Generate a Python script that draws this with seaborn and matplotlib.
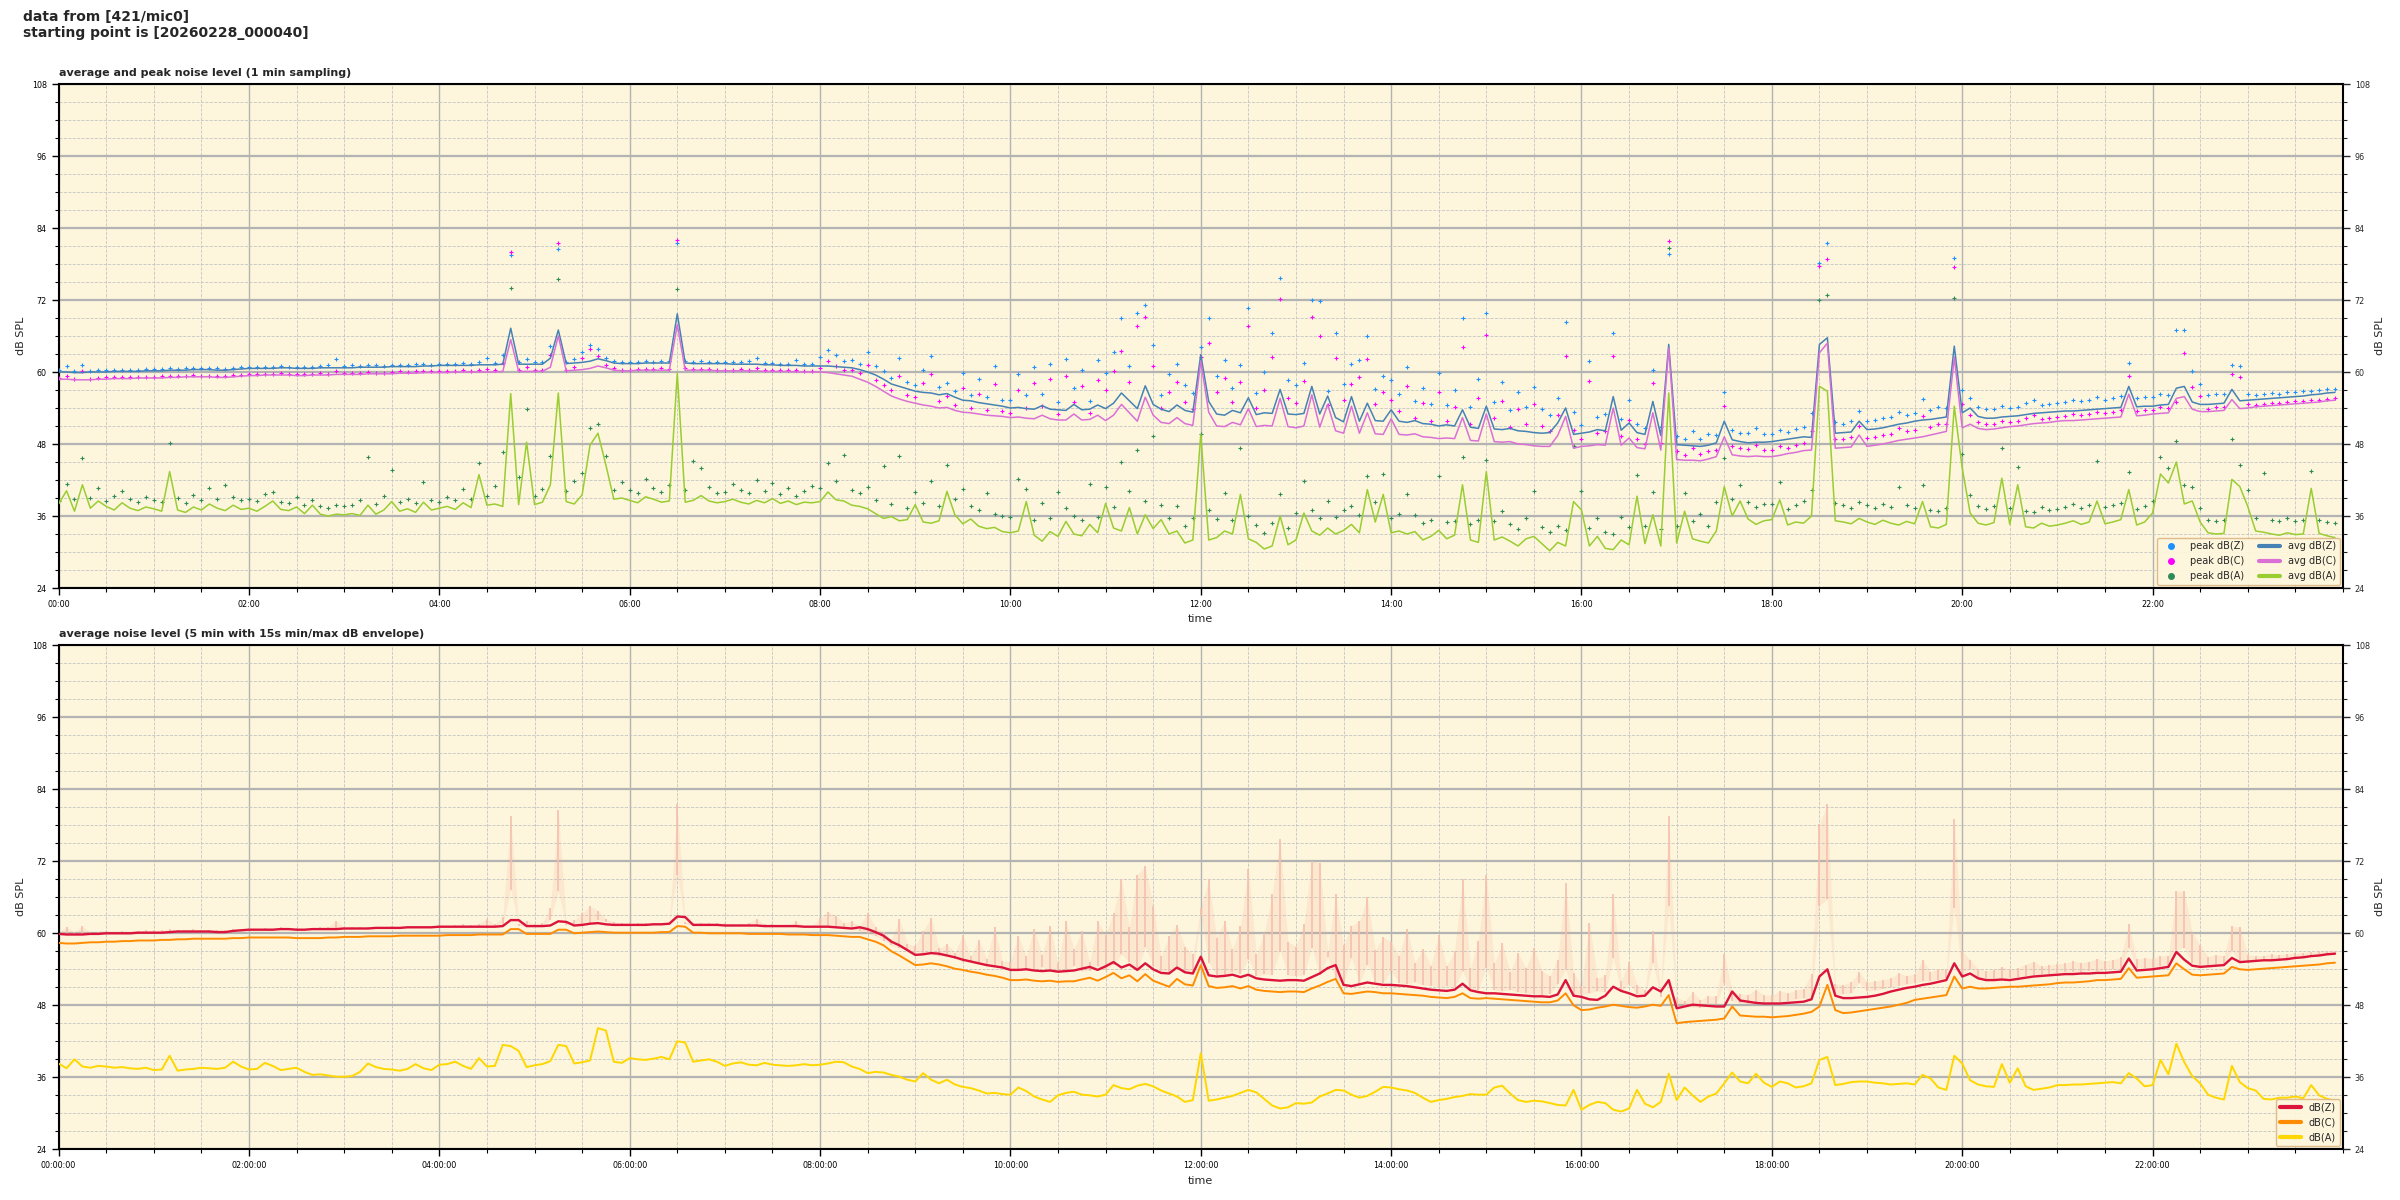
import numpy as np
import matplotlib
matplotlib.use("Agg")
import matplotlib.pyplot as plt
import seaborn as sns
from matplotlib.ticker import MultipleLocator
from matplotlib.lines import Line2D

# ---------------- data (5-minute samples, one row per hour) ----------------
avg_z_rows = [
    [60.0, 60.0, 59.9, 59.9, 60.0, 60.0, 60.0, 60.1, 60.1, 60.1, 60.1, 60.2],
    [60.2, 60.2, 60.3, 60.3, 60.3, 60.4, 60.4, 60.4, 60.3, 60.3, 60.4, 60.5],
    [60.6, 60.6, 60.6, 60.6, 60.7, 60.7, 60.6, 60.6, 60.6, 60.7, 60.7, 60.7],
    [60.7, 60.7, 60.8, 60.8, 60.8, 60.8, 60.9, 60.9, 60.9, 60.9, 61.0, 61.0],
    [61.1, 61.1, 61.1, 61.1, 61.1, 61.2, 61.2, 61.2, 61.3, 67.3, 61.3, 61.3],
    [61.3, 61.3, 62.3, 67.0, 61.4, 61.5, 61.6, 61.8, 62.2, 61.9, 61.5, 61.4],
    [61.4, 61.4, 61.5, 61.5, 61.5, 61.5, 69.7, 61.5, 61.4, 61.4, 61.4, 61.4],
    [61.4, 61.3, 61.3, 61.3, 61.3, 61.2, 61.2, 61.1, 61.1, 61.1, 61.0, 61.0],
    [61.0, 61.0, 60.9, 60.8, 60.7, 60.4, 60.0, 59.5, 58.8, 58.0, 57.6, 57.2],
    [56.8, 56.6, 56.5, 56.2, 56.4, 55.8, 55.3, 55.2, 54.9, 54.7, 54.5, 54.3],
    [54.0, 54.1, 53.9, 53.8, 54.4, 53.8, 53.7, 53.6, 54.6, 53.7, 53.8, 54.5],
    [53.9, 54.8, 56.5, 55.2, 53.9, 57.7, 54.6, 53.8, 53.4, 54.5, 53.6, 53.3],
    [62.9, 55.1, 53.0, 52.8, 53.6, 53.2, 55.7, 52.9, 53.2, 53.1, 57.1, 53.0],
    [52.9, 53.1, 57.6, 53.0, 56.0, 52.4, 51.7, 55.9, 51.8, 54.8, 51.9, 51.8],
    [53.7, 51.8, 51.6, 51.9, 51.4, 51.3, 51.0, 51.2, 51.0, 53.7, 50.8, 50.6],
    [54.3, 50.5, 50.4, 50.6, 50.2, 50.1, 49.9, 49.8, 49.9, 51.5, 54.0, 49.6],
    [49.8, 50.0, 50.4, 50.2, 55.9, 50.3, 51.5, 49.9, 49.6, 55.1, 49.4, 64.6],
    [47.9, 47.8, 47.7, 47.6, 47.8, 48.2, 51.8, 48.7, 48.4, 48.2, 48.3, 48.3],
    [48.4, 48.6, 48.8, 49.0, 49.2, 49.1, 64.6, 65.7, 49.8, 49.9, 50.0, 51.8],
    [50.4, 50.5, 50.7, 51.0, 51.3, 51.5, 51.8, 52.0, 52.1, 52.3, 52.5, 64.3],
    [53.2, 54.0, 52.6, 52.3, 52.3, 52.5, 52.6, 52.7, 52.9, 53.1, 53.2, 53.3],
    [53.4, 53.5, 53.5, 53.6, 53.7, 53.8, 53.9, 54.0, 54.1, 57.6, 54.2, 54.3],
    [54.3, 54.5, 54.6, 57.3, 57.6, 55.0, 54.6, 54.6, 54.7, 54.8, 57.1, 55.2],
    [55.3, 55.4, 55.5, 55.6, 55.7, 55.8, 55.9, 56.0, 56.2, 56.3, 56.5, 56.6],
]
avg_c_rows = [
    [58.8, 58.8, 58.7, 58.7, 58.7, 58.8, 58.8, 58.9, 58.9, 58.9, 59.0, 59.0],
    [59.0, 59.0, 59.1, 59.1, 59.2, 59.2, 59.2, 59.2, 59.1, 59.1, 59.2, 59.3],
    [59.4, 59.4, 59.5, 59.5, 59.5, 59.5, 59.4, 59.4, 59.5, 59.5, 59.5, 59.6],
    [59.6, 59.6, 59.6, 59.7, 59.7, 59.7, 59.7, 59.8, 59.8, 59.8, 59.9, 59.9],
    [59.9, 59.9, 60.0, 60.0, 60.0, 60.0, 60.0, 60.0, 60.1, 65.4, 60.1, 60.1],
    [60.1, 60.1, 60.8, 66.0, 60.2, 60.3, 60.4, 60.6, 61.0, 60.7, 60.3, 60.2],
    [60.2, 60.3, 60.3, 60.3, 60.3, 60.3, 67.9, 60.3, 60.3, 60.3, 60.3, 60.2],
    [60.2, 60.2, 60.2, 60.2, 60.2, 60.1, 60.1, 60.1, 60.1, 60.0, 60.0, 60.0],
    [60.0, 59.9, 59.7, 59.5, 59.3, 58.8, 58.3, 57.6, 56.8, 56.0, 55.5, 55.1],
    [54.8, 54.5, 54.3, 54.0, 54.1, 53.6, 53.3, 53.2, 53.0, 52.8, 52.7, 52.6],
    [52.4, 52.5, 52.3, 52.2, 52.8, 52.2, 52.0, 52.0, 53.0, 52.0, 52.1, 52.8],
    [51.9, 52.8, 54.6, 53.2, 51.8, 55.8, 52.8, 51.6, 51.4, 52.4, 51.4, 51.1],
    [61.8, 53.3, 51.0, 50.9, 51.6, 51.2, 53.9, 50.9, 51.1, 51.0, 55.6, 50.9],
    [50.7, 51.0, 56.2, 50.8, 54.6, 50.2, 49.8, 54.3, 49.8, 53.2, 49.7, 49.6],
    [52.2, 49.6, 49.5, 49.7, 49.2, 49.1, 48.9, 49.0, 48.9, 52.4, 48.6, 48.5],
    [53.0, 48.4, 48.3, 48.4, 48.0, 47.9, 47.7, 47.6, 47.6, 49.4, 52.6, 47.3],
    [47.6, 47.7, 47.9, 47.8, 54.0, 47.8, 49.0, 47.4, 47.2, 53.2, 47.0, 64.0],
    [45.4, 45.3, 45.3, 45.2, 45.5, 45.9, 49.2, 46.2, 46.0, 45.9, 46.0, 45.9],
    [45.9, 46.1, 46.4, 46.6, 46.9, 47.0, 63.2, 64.8, 47.3, 47.4, 47.5, 49.5],
    [47.6, 47.8, 48.0, 48.3, 48.6, 48.8, 49.0, 49.2, 49.5, 49.8, 50.1, 62.5],
    [50.7, 51.3, 50.6, 50.4, 50.5, 50.7, 50.9, 51.0, 51.2, 51.4, 51.5, 51.6],
    [51.8, 51.9, 51.9, 52.0, 52.1, 52.2, 52.3, 52.4, 52.5, 56.3, 52.7, 52.8],
    [53.0, 53.1, 53.2, 55.6, 55.9, 53.8, 53.4, 53.4, 53.5, 53.6, 55.4, 53.9],
    [54.0, 54.2, 54.3, 54.4, 54.5, 54.6, 54.7, 54.8, 54.9, 55.0, 55.2, 55.3],
]
avg_a_rows = [
    [38.0, 40.2, 36.8, 41.2, 37.3, 38.5, 37.6, 37.0, 38.2, 37.3, 36.9, 37.5],
    [37.2, 36.8, 43.4, 37.0, 36.6, 37.5, 37.0, 38.0, 37.3, 36.9, 37.8, 37.1],
    [37.3, 36.8, 37.6, 38.5, 37.1, 36.9, 37.5, 36.4, 37.8, 36.3, 36.0, 36.3],
    [36.2, 36.4, 36.1, 37.8, 36.3, 37.0, 38.4, 36.8, 37.2, 36.6, 38.3, 37.0],
    [37.3, 37.6, 37.1, 38.2, 37.4, 42.9, 37.8, 38.0, 37.6, 56.4, 37.9, 48.3],
    [37.9, 38.3, 41.2, 56.5, 38.4, 38.0, 39.5, 47.8, 49.8, 44.5, 38.8, 39.0],
    [38.6, 38.2, 39.2, 38.8, 38.3, 38.5, 59.8, 38.3, 38.6, 39.4, 38.5, 38.2],
    [38.4, 38.8, 38.3, 38.0, 38.6, 38.2, 38.9, 38.1, 38.5, 37.9, 38.3, 38.2],
    [38.4, 40.0, 38.7, 38.5, 37.8, 37.6, 37.2, 36.4, 35.6, 35.9, 35.2, 35.4],
    [37.9, 35.0, 34.8, 35.2, 40.1, 36.2, 34.7, 35.5, 34.3, 33.9, 34.1, 33.4],
    [33.2, 33.5, 38.4, 32.8, 31.8, 33.4, 32.6, 35.1, 33.0, 32.7, 34.6, 33.2],
    [38.1, 34.0, 33.5, 37.4, 33.0, 36.2, 33.9, 35.4, 33.0, 33.5, 31.5, 32.0],
    [49.6, 32.0, 32.4, 33.5, 33.0, 39.6, 32.2, 31.6, 30.5, 31.0, 36.0, 31.2],
    [32.0, 36.5, 33.5, 32.8, 34.0, 33.0, 33.6, 34.6, 33.2, 40.4, 35.0, 39.6],
    [33.2, 33.5, 33.0, 33.4, 32.0, 32.6, 33.6, 32.2, 32.8, 41.2, 32.0, 31.6],
    [43.4, 32.0, 32.5, 31.8, 31.0, 32.2, 32.6, 31.4, 30.2, 31.6, 31.0, 38.4],
    [37.0, 31.0, 32.6, 30.6, 30.4, 32.0, 31.2, 39.3, 31.4, 36.2, 31.0, 56.5],
    [31.5, 36.8, 32.2, 31.8, 31.5, 33.5, 40.9, 36.0, 38.5, 35.5, 34.6, 35.2],
    [35.4, 38.7, 34.5, 35.0, 34.8, 36.0, 57.6, 56.8, 35.2, 35.0, 34.7, 35.6],
    [35.0, 34.6, 35.3, 34.8, 34.5, 35.1, 34.7, 38.4, 34.2, 34.0, 34.6, 54.3],
    [44.0, 36.5, 34.8, 34.5, 34.9, 42.3, 34.6, 41.2, 34.2, 34.0, 34.8, 34.3],
    [34.5, 34.8, 35.2, 34.6, 35.0, 38.5, 34.7, 35.0, 35.4, 40.4, 34.5, 35.0],
    [36.5, 43.0, 41.5, 45.0, 38.0, 38.5, 35.0, 33.2, 33.0, 33.1, 42.1, 40.9],
    [37.6, 33.5, 33.3, 33.0, 32.8, 33.2, 32.9, 33.0, 40.6, 33.1, 32.7, 32.4],
]
peak_z_rows = [
    [60.3, 61.0, 60.2, 61.2, 60.2, 60.3, 60.4, 60.3, 60.4, 60.3, 60.4, 60.5],
    [60.5, 60.5, 60.7, 60.5, 60.6, 60.7, 60.6, 60.6, 60.6, 60.5, 60.7, 60.8],
    [60.9, 60.8, 60.9, 60.8, 61.0, 60.9, 60.9, 60.8, 60.9, 61.0, 61.1, 62.1],
    [61.0, 61.1, 61.0, 61.1, 61.1, 61.0, 61.2, 61.1, 61.2, 61.3, 61.3, 61.2],
    [61.4, 61.3, 61.4, 61.5, 61.4, 61.6, 62.4, 61.5, 62.8, 79.5, 61.6, 62.1],
    [61.6, 61.7, 64.3, 80.5, 61.7, 62.2, 63.4, 64.5, 63.8, 62.4, 61.9, 61.7],
    [61.7, 61.7, 61.8, 61.7, 61.8, 61.8, 81.5, 61.9, 61.7, 61.8, 61.7, 61.7],
    [61.7, 61.6, 61.6, 61.8, 62.4, 61.5, 61.5, 61.4, 61.4, 62.0, 61.3, 61.3],
    [62.5, 63.6, 62.9, 61.8, 62.0, 61.3, 63.4, 61.0, 60.2, 59.0, 62.4, 58.3],
    [57.9, 60.4, 62.6, 57.5, 58.2, 56.8, 59.8, 56.2, 58.9, 55.8, 61.0, 55.4],
    [55.3, 59.6, 56.2, 60.8, 56.4, 61.3, 55.0, 62.1, 57.4, 60.4, 55.2, 62.0],
    [59.8, 63.4, 69.0, 61.0, 69.8, 71.2, 64.5, 56.2, 59.6, 61.4, 57.8, 56.5],
    [64.2, 69.0, 59.3, 62.0, 57.4, 61.2, 70.7, 56.5, 60.0, 66.5, 75.7, 58.6],
    [57.8, 61.5, 72.0, 71.8, 56.9, 66.5, 58.0, 61.3, 62.0, 66.0, 57.2, 59.4],
    [58.6, 56.3, 60.8, 55.1, 57.4, 54.6, 59.8, 54.5, 57.0, 69.0, 54.2, 58.8],
    [69.8, 55.0, 58.4, 53.6, 56.7, 54.2, 57.5, 53.8, 52.9, 55.6, 68.4, 53.4],
    [51.2, 61.8, 52.5, 53.0, 66.5, 52.1, 55.3, 51.4, 50.6, 60.4, 50.8, 79.6],
    [49.3, 48.8, 50.2, 48.9, 49.6, 49.5, 56.6, 50.3, 49.9, 49.8, 50.6, 49.7],
    [49.7, 50.4, 50.0, 50.5, 50.8, 53.2, 78.2, 81.5, 51.6, 51.4, 51.9, 53.5],
    [51.9, 52.0, 52.3, 52.5, 53.4, 52.9, 53.2, 55.5, 53.6, 54.1, 54.0, 79.0],
    [57.0, 55.6, 54.1, 53.8, 53.9, 54.4, 54.0, 54.2, 54.8, 55.3, 54.5, 54.7],
    [54.9, 55.0, 55.4, 55.1, 55.3, 55.8, 55.4, 55.6, 56.0, 61.5, 55.7, 55.9],
    [55.8, 56.3, 56.2, 67.0, 67.0, 60.1, 58.0, 56.1, 56.4, 56.3, 61.2, 61.0],
    [56.4, 56.2, 56.3, 56.5, 56.4, 56.6, 56.7, 56.8, 56.9, 57.0, 57.1, 57.1],
]
peak_c_rows = [
    [59.0, 59.4, 58.9, 60.2, 58.9, 59.0, 59.1, 59.1, 59.1, 59.2, 59.2, 59.2],
    [59.2, 59.3, 59.4, 59.3, 59.4, 59.5, 59.4, 59.4, 59.3, 59.4, 59.5, 59.5],
    [59.6, 59.6, 59.7, 59.7, 59.8, 59.7, 59.6, 59.7, 59.7, 59.8, 59.7, 60.1],
    [59.8, 59.9, 59.8, 60.0, 59.9, 59.9, 60.0, 60.1, 60.0, 60.1, 60.1, 60.2],
    [60.1, 60.2, 60.2, 60.3, 60.2, 60.3, 60.5, 60.3, 61.5, 80.0, 60.4, 60.9],
    [60.3, 60.4, 62.8, 81.5, 60.4, 60.8, 62.3, 63.8, 62.6, 61.1, 60.6, 60.4],
    [60.4, 60.5, 60.5, 60.5, 60.6, 60.5, 82.0, 60.6, 60.5, 60.5, 60.5, 60.4],
    [60.4, 60.4, 60.5, 60.4, 60.7, 60.3, 60.3, 60.3, 60.3, 60.4, 60.2, 60.2],
    [60.6, 61.8, 61.0, 60.4, 60.3, 59.8, 61.2, 58.6, 57.8, 57.0, 59.4, 56.2],
    [55.8, 58.2, 59.6, 55.2, 56.0, 54.5, 57.4, 54.0, 56.3, 53.6, 58.0, 53.5],
    [53.2, 57.0, 54.0, 58.2, 54.3, 58.8, 53.0, 59.3, 55.0, 57.7, 53.2, 58.6],
    [57.0, 60.2, 63.5, 58.4, 67.6, 69.2, 61.0, 54.0, 56.6, 58.4, 55.0, 53.9],
    [62.5, 64.8, 56.6, 59.0, 55.0, 58.3, 67.6, 54.0, 57.0, 62.5, 72.2, 55.6],
    [54.8, 58.5, 69.2, 66.0, 54.5, 62.4, 55.4, 58.0, 59.2, 62.2, 54.6, 56.6],
    [55.4, 53.5, 57.7, 52.4, 54.8, 51.9, 56.6, 51.8, 54.2, 64.2, 51.4, 55.6],
    [66.2, 52.4, 55.2, 50.8, 53.8, 51.4, 54.6, 51.0, 50.2, 52.8, 62.6, 50.4],
    [48.8, 58.5, 49.8, 50.2, 62.6, 49.3, 52.0, 48.9, 48.0, 58.2, 48.2, 81.8],
    [46.8, 46.2, 47.4, 46.3, 46.9, 47.0, 54.4, 47.6, 47.3, 47.1, 47.8, 47.0],
    [47.0, 47.6, 47.4, 47.9, 48.2, 50.1, 77.6, 78.8, 48.9, 48.8, 49.2, 51.0],
    [49.0, 49.2, 49.5, 49.7, 50.6, 50.1, 50.4, 52.6, 50.8, 51.3, 51.3, 77.5],
    [54.6, 52.8, 51.6, 51.3, 51.4, 51.8, 51.6, 51.8, 52.3, 52.8, 52.2, 52.4],
    [52.5, 52.7, 53.0, 52.8, 53.0, 53.4, 53.1, 53.3, 53.6, 59.3, 53.5, 53.6],
    [53.7, 54.2, 54.0, 55.0, 63.2, 57.5, 56.0, 53.9, 54.1, 54.2, 59.6, 59.2],
    [54.6, 54.5, 54.7, 54.8, 54.8, 55.0, 55.1, 55.2, 55.3, 55.4, 55.5, 55.6],
]
peak_a_rows = [
    [38.5, 41.4, 38.8, 45.6, 39.0, 40.6, 38.5, 39.4, 40.2, 38.9, 38.4, 39.1],
    [38.6, 38.3, 48.1, 39.0, 38.2, 39.5, 38.6, 40.7, 38.8, 41.2, 39.2, 38.6],
    [38.9, 38.5, 39.6, 40.0, 38.4, 38.2, 39.2, 37.8, 38.6, 37.6, 37.4, 37.8],
    [37.6, 37.9, 38.6, 45.8, 38.0, 39.4, 43.6, 38.3, 38.9, 38.2, 41.6, 38.6],
    [38.4, 39.2, 38.6, 40.5, 38.9, 44.8, 39.4, 41.0, 46.6, 74.0, 42.5, 53.8],
    [39.4, 40.5, 46.0, 75.5, 40.2, 41.8, 43.2, 50.7, 51.4, 46.0, 40.4, 41.6],
    [40.4, 39.8, 42.2, 40.6, 40.0, 41.2, 73.8, 40.3, 45.2, 44.0, 40.8, 39.9],
    [40.0, 41.4, 40.3, 39.8, 42.0, 40.1, 41.5, 39.6, 40.6, 39.4, 40.2, 41.0],
    [40.6, 44.8, 41.8, 46.2, 40.4, 39.8, 40.9, 38.7, 44.3, 38.0, 46.0, 37.4],
    [40.0, 38.2, 41.8, 37.6, 44.5, 38.8, 40.5, 37.7, 37.0, 39.8, 36.4, 36.0],
    [35.8, 42.2, 40.5, 35.4, 38.2, 35.6, 40.0, 37.3, 36.0, 35.4, 41.4, 35.8],
    [40.8, 37.5, 45.0, 40.2, 47.0, 38.5, 49.4, 37.8, 35.6, 37.6, 34.3, 35.6],
    [49.6, 37.0, 35.5, 39.8, 35.4, 47.4, 36.0, 34.5, 33.2, 34.8, 39.6, 34.0],
    [36.5, 41.8, 37.0, 35.6, 38.5, 35.8, 37.0, 37.6, 36.2, 42.6, 38.4, 43.0],
    [35.6, 36.4, 39.7, 36.2, 34.8, 35.4, 42.6, 35.0, 35.2, 45.8, 34.6, 35.4],
    [45.4, 35.2, 36.8, 34.6, 33.8, 35.6, 40.2, 34.2, 33.4, 34.4, 33.6, 47.6],
    [40.2, 34.0, 35.6, 33.4, 33.0, 35.8, 34.2, 42.8, 34.3, 40.0, 33.8, 80.7],
    [34.4, 39.8, 35.2, 36.4, 34.3, 38.4, 45.6, 38.8, 41.2, 38.4, 37.5, 38.0],
    [38.0, 41.6, 37.2, 37.8, 38.5, 40.3, 72.0, 72.9, 38.1, 37.8, 37.4, 38.4],
    [37.8, 37.3, 38.0, 37.5, 40.9, 37.9, 37.4, 41.2, 37.0, 36.8, 37.3, 72.4],
    [46.4, 39.5, 37.6, 37.2, 37.6, 47.3, 37.4, 44.2, 36.9, 36.7, 37.5, 37.0],
    [37.2, 37.5, 38.0, 37.3, 37.8, 45.2, 37.5, 37.8, 38.2, 43.4, 37.2, 37.6],
    [38.5, 45.8, 44.0, 48.5, 41.2, 40.8, 37.4, 35.4, 35.2, 35.3, 48.8, 44.5],
    [40.4, 35.6, 43.2, 35.4, 35.1, 35.6, 35.2, 35.3, 43.5, 35.4, 35.0, 34.8],
]
# 5-minute averages (lower chart)
db_z_rows = [
    [59.9, 59.8, 59.8, 59.8, 59.9, 59.9, 60.0, 60.0, 60.0, 60.0, 60.1, 60.1],
    [60.1, 60.1, 60.2, 60.3, 60.3, 60.3, 60.3, 60.3, 60.2, 60.2, 60.4, 60.5],
    [60.6, 60.6, 60.6, 60.6, 60.7, 60.7, 60.6, 60.6, 60.7, 60.7, 60.7, 60.7],
    [60.8, 60.8, 60.8, 60.8, 60.9, 60.9, 60.9, 60.9, 61.0, 61.0, 61.0, 61.0],
    [61.1, 61.1, 61.1, 61.1, 61.1, 61.1, 61.1, 61.1, 61.2, 62.2, 62.2, 61.2],
    [61.2, 61.2, 61.3, 62.0, 61.9, 61.3, 61.4, 61.6, 61.7, 61.5, 61.4, 61.4],
    [61.4, 61.4, 61.4, 61.5, 61.5, 61.6, 62.8, 62.7, 61.4, 61.4, 61.4, 61.4],
    [61.3, 61.3, 61.3, 61.3, 61.3, 61.2, 61.2, 61.2, 61.2, 61.2, 61.1, 61.1],
    [61.1, 61.1, 61.0, 60.9, 60.8, 61.0, 60.7, 60.2, 59.6, 58.6, 58.0, 57.2],
    [56.4, 56.5, 56.7, 56.6, 56.3, 56.0, 55.6, 55.3, 55.0, 54.7, 54.5, 54.3],
    [53.9, 53.9, 54.0, 53.8, 53.7, 53.8, 53.6, 53.7, 53.8, 54.1, 54.4, 53.9],
    [54.5, 55.2, 54.3, 54.8, 53.9, 55.0, 54.0, 53.4, 53.3, 54.3, 53.5, 53.3],
    [56.1, 53.0, 52.8, 52.9, 53.1, 52.7, 53.1, 52.5, 52.3, 52.2, 52.1, 52.2],
    [52.2, 52.1, 52.7, 53.3, 54.2, 54.7, 51.4, 51.2, 51.5, 51.8, 51.6, 51.4],
    [51.4, 51.3, 51.2, 51.0, 50.8, 50.6, 50.5, 50.4, 50.6, 51.6, 50.5, 50.2],
    [50.0, 50.0, 49.9, 49.8, 49.7, 49.6, 49.5, 49.5, 49.4, 49.8, 52.2, 49.6],
    [49.4, 49.0, 48.9, 49.6, 51.1, 50.4, 50.0, 49.5, 49.6, 51.0, 50.3, 52.2],
    [47.5, 47.8, 48.1, 48.0, 47.9, 47.8, 47.8, 50.3, 48.8, 48.6, 48.4, 48.3],
    [48.3, 48.3, 48.4, 48.5, 48.6, 49.0, 52.8, 54.0, 49.6, 49.2, 49.2, 49.3],
    [49.4, 49.6, 49.9, 50.3, 50.6, 50.9, 51.1, 51.4, 51.6, 51.9, 52.2, 55.0],
    [52.8, 53.3, 52.5, 52.2, 52.2, 52.3, 52.2, 52.4, 52.6, 52.8, 52.9, 53.0],
    [53.1, 53.2, 53.2, 53.3, 53.3, 53.4, 53.4, 53.5, 53.6, 55.8, 53.8, 53.9],
    [54.0, 54.2, 54.4, 56.9, 55.6, 54.6, 54.4, 54.5, 54.6, 54.7, 55.9, 55.2],
    [55.3, 55.4, 55.5, 55.5, 55.6, 55.7, 55.9, 56.0, 56.2, 56.3, 56.5, 56.6],
]
db_c_rows = [
    [58.4, 58.3, 58.3, 58.4, 58.5, 58.5, 58.6, 58.6, 58.7, 58.7, 58.8, 58.8],
    [58.8, 58.9, 58.9, 59.0, 59.0, 59.1, 59.1, 59.1, 59.1, 59.1, 59.2, 59.2],
    [59.3, 59.3, 59.3, 59.3, 59.3, 59.3, 59.2, 59.2, 59.2, 59.2, 59.3, 59.3],
    [59.4, 59.4, 59.4, 59.5, 59.5, 59.5, 59.5, 59.6, 59.6, 59.6, 59.6, 59.6],
    [59.6, 59.7, 59.7, 59.7, 59.7, 59.8, 59.8, 59.8, 59.8, 60.7, 60.7, 59.9],
    [59.9, 59.9, 59.9, 60.6, 60.6, 60.0, 60.1, 60.2, 60.3, 60.2, 60.1, 60.1],
    [60.1, 60.1, 60.1, 60.1, 60.2, 60.2, 61.2, 61.1, 60.1, 60.1, 60.0, 60.0],
    [60.0, 60.0, 60.0, 59.9, 59.9, 59.9, 59.9, 59.9, 59.8, 59.8, 59.8, 59.7],
    [59.7, 59.7, 59.6, 59.5, 59.4, 59.4, 59.0, 58.6, 58.0, 57.0, 56.3, 55.5],
    [54.7, 54.8, 55.0, 54.8, 54.5, 54.1, 53.9, 53.6, 53.4, 53.1, 52.9, 52.6],
    [52.2, 52.2, 52.3, 52.1, 52.0, 52.1, 51.9, 52.0, 52.0, 52.3, 52.6, 52.1],
    [52.7, 53.4, 52.5, 53.0, 52.0, 53.2, 52.1, 51.6, 51.1, 52.4, 51.5, 51.3],
    [54.7, 51.2, 50.9, 51.0, 51.2, 50.8, 51.2, 50.6, 50.4, 50.3, 50.2, 50.3],
    [50.3, 50.2, 50.8, 51.3, 51.9, 52.4, 50.0, 49.9, 50.1, 50.3, 50.2, 50.0],
    [50.0, 49.9, 49.8, 49.7, 49.6, 49.4, 49.3, 49.2, 49.4, 50.0, 49.2, 49.1],
    [49.2, 49.1, 49.0, 48.9, 48.8, 48.7, 48.6, 48.5, 48.5, 48.8, 50.0, 48.0],
    [47.2, 47.3, 47.6, 47.8, 48.1, 47.9, 47.7, 47.6, 47.8, 48.1, 47.9, 49.7],
    [45.0, 45.2, 45.3, 45.4, 45.5, 45.6, 45.8, 47.8, 46.3, 46.2, 46.1, 46.1],
    [46.0, 46.1, 46.2, 46.4, 46.6, 46.9, 47.8, 51.4, 47.2, 46.7, 46.8, 47.0],
    [47.2, 47.4, 47.6, 47.8, 48.1, 48.4, 48.9, 49.1, 49.3, 49.5, 49.7, 52.8],
    [50.8, 51.1, 50.8, 50.8, 50.9, 51.0, 51.1, 51.1, 51.2, 51.3, 51.4, 51.5],
    [51.7, 51.8, 51.8, 51.9, 52.0, 52.2, 52.2, 52.3, 52.4, 54.2, 52.6, 52.7],
    [52.8, 52.9, 53.0, 55.0, 54.0, 53.1, 53.0, 53.1, 53.2, 53.3, 54.4, 54.0],
    [53.9, 54.0, 54.1, 54.2, 54.3, 54.4, 54.5, 54.6, 54.7, 54.8, 55.0, 55.1],
]
db_a_rows = [
    [38.3, 37.5, 39.0, 37.8, 37.6, 37.9, 37.8, 37.6, 37.7, 37.5, 37.4, 37.6],
    [37.2, 37.3, 39.6, 37.1, 37.3, 37.4, 37.6, 37.5, 37.4, 37.6, 38.6, 37.8],
    [37.3, 37.4, 38.4, 37.9, 37.2, 37.4, 37.6, 36.9, 36.4, 36.5, 36.3, 36.1],
    [36.1, 36.2, 36.9, 38.3, 37.7, 37.4, 37.3, 37.1, 37.4, 38.2, 37.5, 37.2],
    [38.1, 38.2, 38.6, 37.9, 37.4, 39.2, 37.8, 37.9, 41.4, 41.2, 40.4, 37.7],
    [38.0, 38.2, 38.7, 41.4, 41.2, 38.3, 38.5, 38.8, 44.2, 43.8, 38.6, 38.4],
    [39.2, 39.0, 38.9, 39.1, 39.4, 39.0, 42.0, 41.8, 38.6, 38.8, 39.0, 38.6],
    [37.9, 38.3, 38.5, 38.1, 38.0, 38.4, 38.1, 38.0, 37.9, 38.0, 38.2, 38.0],
    [38.1, 38.3, 38.6, 38.5, 37.8, 37.4, 36.7, 36.9, 36.8, 36.4, 36.1, 35.6],
    [35.3, 36.7, 35.6, 35.0, 35.6, 34.8, 34.4, 34.2, 33.8, 33.3, 33.4, 33.2],
    [33.1, 34.3, 33.7, 32.8, 32.3, 31.9, 33.0, 33.4, 33.6, 33.1, 33.0, 32.8],
    [33.1, 34.7, 34.2, 34.0, 34.6, 34.9, 34.5, 33.8, 33.3, 32.8, 31.9, 32.2],
    [40.0, 32.1, 32.3, 32.6, 32.9, 33.4, 33.9, 33.5, 32.4, 31.3, 30.8, 31.0],
    [31.7, 31.6, 31.8, 32.8, 33.3, 33.9, 33.8, 33.1, 32.6, 32.9, 33.6, 34.4],
    [34.3, 34.0, 33.8, 33.4, 32.6, 31.9, 32.2, 32.4, 32.7, 32.9, 33.2, 33.1],
    [33.1, 34.3, 34.6, 33.3, 32.2, 31.9, 32.1, 32.0, 31.7, 31.4, 31.3, 33.9],
    [30.6, 31.4, 31.9, 31.7, 30.6, 30.3, 30.8, 33.9, 31.6, 31.0, 31.9, 36.6],
    [32.2, 34.3, 33.0, 31.9, 32.8, 33.3, 35.0, 36.8, 35.3, 35.0, 36.6, 35.1],
    [34.4, 35.3, 35.0, 34.3, 34.5, 35.0, 38.9, 39.4, 34.7, 34.9, 35.2, 35.3],
    [35.3, 35.1, 35.0, 34.8, 34.9, 35.0, 34.8, 36.4, 35.8, 34.3, 33.9, 39.6],
    [38.3, 35.5, 34.8, 34.5, 34.4, 38.2, 35.1, 37.5, 34.5, 33.9, 34.1, 34.3],
    [34.7, 34.7, 34.8, 34.8, 34.9, 35.0, 35.1, 35.2, 35.0, 36.7, 35.8, 34.5],
    [34.7, 38.9, 36.5, 41.6, 38.5, 36.2, 35.0, 33.1, 32.6, 32.3, 37.9, 35.2],
    [34.2, 33.8, 32.4, 32.3, 32.6, 32.6, 32.8, 32.5, 34.7, 33.0, 32.4, 32.1],
]

major_hours = [0, 2, 4, 6, 8, 10, 12, 14, 16, 18, 20, 22]
top_tick_labels = ["%02d:00" % h for h in major_hours]
bottom_tick_labels = ["%02d:00:00" % h for h in major_hours]

# ---------------- assemble ----------------
t_hours = np.arange(0, 1440, 5) / 60.0
avg_z = np.ravel(avg_z_rows)
avg_c = np.ravel(avg_c_rows)
avg_a = np.ravel(avg_a_rows)
peak_z = np.ravel(peak_z_rows)
peak_c = np.ravel(peak_c_rows)
peak_a = np.ravel(peak_a_rows)
db_z = np.ravel(db_z_rows)
db_c = np.ravel(db_c_rows)
db_a = np.ravel(db_a_rows)

sns.set_theme(style="ticks")
plt.rcParams["font.family"] = ["DejaVu Sans"]

BG = "#fdf6dc"
fig = plt.figure(figsize=(24, 12), dpi=100)
ax1 = fig.add_axes([0.02442, 0.51, 0.9518, 0.42])
ax2 = fig.add_axes([0.02442, 0.04225, 0.9518, 0.42])


def style_axes(ax, labels):
    ax.set_facecolor(BG)
    ax.set_xlim(0, 24)
    ax.set_ylim(24, 108)
    ax.set_xticks(major_hours)
    ax.set_xticklabels(labels)
    ax.xaxis.set_minor_locator(MultipleLocator(0.5))
    ax.yaxis.set_major_locator(MultipleLocator(12))
    ax.yaxis.set_minor_locator(MultipleLocator(3))
    ax.grid(which="major", axis="y", color="#b3b3b3", lw=1.6)
    ax.grid(which="major", axis="x", color="#b3b3b3", lw=1.0)
    ax.grid(which="minor", color="#c4c4c4", lw=0.6, ls="--")
    ax.set_axisbelow(True)
    for s in ax.spines.values():
        s.set_linewidth(1.5)
        s.set_color("black")
    ax.tick_params(which="both", left=True, right=False, bottom=True, top=False,
                   labelsize=5.8, colors="black", direction="out")
    ax.tick_params(which="major", length=5, width=1)
    ax.tick_params(which="minor", length=3, width=0.8)
    axr = ax.twinx()
    axr.set_ylim(24, 108)
    axr.yaxis.set_major_locator(MultipleLocator(12))
    axr.yaxis.set_minor_locator(MultipleLocator(3))
    axr.tick_params(which="both", labelsize=5.8, direction="out", right=True)
    axr.tick_params(which="major", length=5, width=1)
    axr.tick_params(which="minor", length=3, width=0.8)
    axr.set_ylabel("dB SPL", fontsize=8)
    for s in axr.spines.values():
        s.set_visible(False)
    return axr


style_axes(ax1, top_tick_labels)
style_axes(ax2, bottom_tick_labels)

# ---------------- top chart ----------------
for vals, col in [(peak_z, "dodgerblue"), (peak_c, "magenta"), (peak_a, "seagreen")]:
    sns.scatterplot(x=t_hours, y=vals, ax=ax1, marker="+", s=9, color=col,
                    linewidth=0.8, zorder=3, legend=False)
for vals, col in [(avg_z, "steelblue"), (avg_c, "orchid"), (avg_a, "yellowgreen")]:
    sns.lineplot(x=t_hours, y=vals, ax=ax1, color=col, lw=1.1, zorder=4,
                 estimator=None, legend=False)
ax1.set_xlim(0, 24)
ax1.set_ylim(24, 108)
ax1.set_ylabel("dB SPL", fontsize=8)
ax1.set_xlabel("time", fontsize=8)
ax1.set_title("average and peak noise level (1 min sampling)", loc="left",
              fontsize=8, fontweight="bold", pad=6)

h_top = [
    Line2D([], [], ls="", marker="o", ms=4, color="dodgerblue"),
    Line2D([], [], ls="", marker="o", ms=4, color="magenta"),
    Line2D([], [], ls="", marker="o", ms=4, color="seagreen"),
    Line2D([], [], lw=3, color="steelblue"),
    Line2D([], [], lw=3, color="orchid"),
    Line2D([], [], lw=3, color="yellowgreen"),
]
l_top = ["peak dB(Z)", "peak dB(C)", "peak dB(A)", "avg dB(Z)", "avg dB(C)", "avg dB(A)"]
leg1 = ax1.legend(h_top, l_top, loc="lower right", ncol=2, fontsize=7,
                  facecolor=BG, edgecolor="burlywood", framealpha=0.95,
                  borderaxespad=0.3, handlelength=2.2, columnspacing=1.5)
leg1.set_zorder(10)

# ---------------- bottom chart ----------------
# min/max envelope: pale band plus thin needles up to the short-term maxima
ax2.fill_between(t_hours, avg_z, peak_z, color="#f2a58c", alpha=0.16, lw=0, zorder=2)
ax2.vlines(t_hours, avg_z, peak_z, colors="#f4bfae", lw=1.4, alpha=0.85, zorder=2)
sns.lineplot(x=t_hours, y=db_z, ax=ax2, color="crimson", lw=1.7, zorder=4,
             estimator=None, legend=False)
sns.lineplot(x=t_hours, y=db_c, ax=ax2, color="darkorange", lw=1.4, zorder=4,
             estimator=None, legend=False)
sns.lineplot(x=t_hours, y=db_a, ax=ax2, color="gold", lw=1.4, zorder=4,
             estimator=None, legend=False)
ax2.set_xlim(0, 24)
ax2.set_ylim(24, 108)
ax2.set_ylabel("dB SPL", fontsize=8)
ax2.set_xlabel("time", fontsize=8)
ax2.set_title("average noise level (5 min with 15s min/max dB envelope)", loc="left",
              fontsize=8, fontweight="bold", pad=6)
h_bot = [Line2D([], [], lw=3, color="crimson"),
         Line2D([], [], lw=3, color="darkorange"),
         Line2D([], [], lw=3, color="gold")]
leg2 = ax2.legend(h_bot, ["dB(Z)", "dB(C)", "dB(A)"], loc="lower right", fontsize=7,
                  facecolor=BG, edgecolor="burlywood", framealpha=0.95,
                  borderaxespad=0.3, handlelength=2.2)
leg2.set_zorder(10)

fig.text(0.0096, 0.992, "data from [421/mic0]\nstarting point is [20260228_000040]",
         fontsize=10, fontweight="bold", va="top", ha="left")

fig.savefig("out.png", dpi=100, facecolor="white")
